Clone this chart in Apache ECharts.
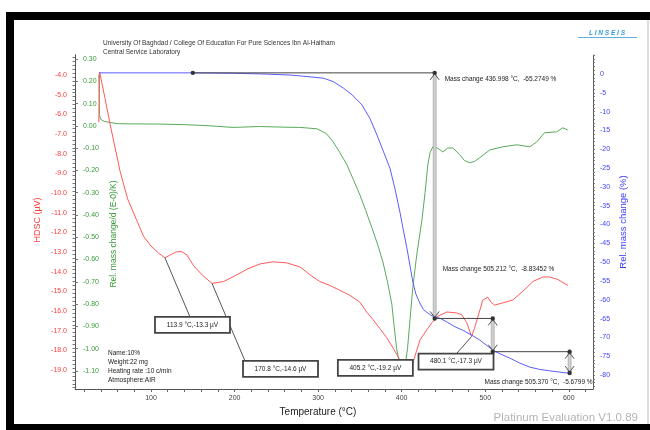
<!DOCTYPE html>
<html><head><meta charset="utf-8">
<script src="https://cdn.jsdelivr.net/npm/echarts@6/dist/echarts.min.js"></script>
<style>html,body{margin:0;padding:0;background:#fff}#c{width:650px;height:430px}</style>
</head><body><div id="c"></div>
<script>
// ---------- data ----------
const tempTicks = [100, 200, 300, 400, 500, 600];
const hdscTicks = [-4, -5, -6, -7, -8, -9, -10, -11, -12, -13, -14, -15, -16, -17, -18, -19];
const dtgTicks = [0.3, 0.2, 0.1, 0, -0.1, -0.2, -0.3, -0.4, -0.5, -0.6, -0.7, -0.8, -0.9, -1.0, -1.1];
const tgTicks = [0, -5, -10, -15, -20, -25, -30, -35, -40, -45, -50, -55, -60, -65, -70, -75, -80];

// HDSC (µV) vs temperature (°C)
const hdscData = [[37.5,-6.4],[38.5,-3.85],[45,-5.2],[51,-6.5],[57,-7.7],[63,-8.9],[72,-10.3],[84,-11.5],[91,-12.2],[100,-12.7],[109,-13.05],[116.7,-13.3],[123,-13.15],[130,-13.0],[136,-12.97],[143,-13.15],[151,-13.7],[162,-14.2],[173,-14.6],[187,-14.5],[201,-14.2],[216,-13.85],[231,-13.6],[246,-13.5],[262,-13.55],[278,-13.75],[290,-14.15],[302,-14.5],[314,-14.7],[326,-14.95],[338,-15.2],[350,-15.55],[358,-16.05],[366,-16.45],[374,-16.9],[382,-17.35],[390,-17.9],[398,-18.5],[403,-18.9],[408,-19.2],[411,-19.0],[413.5,-18.64],[418,-18.0],[422,-17.47],[430,-16.96],[436,-16.6],[442,-16.3],[454,-16.05],[466,-16.1],[472,-16.2],[478,-16.6],[483.6,-17.3],[487,-16.9],[490,-16.46],[494,-15.9],[497,-15.45],[503,-15.3],[507,-15.55],[511,-15.7],[520,-15.6],[533,-15.44],[545,-15.0],[557,-14.5],[569,-14.27],[577,-14.27],[587,-14.4],[599,-14.7]];

// Rel. mass change/d (DTG) vs temperature
const dtgData = [[37.5,0.23],[38.3,0.05],[39.5,0.03],[44,0.02],[51,0.015],[60,0.01],[71,0.009],[111,0.008],[143,0.005],[171,0.0],[198,-0.007],[230,-0.003],[260,-0.006],[278,-0.007],[298.5,-0.013],[310,-0.035],[318,-0.072],[326,-0.12],[334.5,-0.175],[342,-0.24],[350,-0.31],[357,-0.38],[364.3,-0.457],[371,-0.53],[377.5,-0.61],[383,-0.7],[388.2,-0.8],[391,-0.9],[394,-1.0],[398,-1.08],[401,-1.1],[404,-1.08],[407,-1.0],[410,-0.87],[413.3,-0.726],[418,-0.58],[424,-0.43],[428,-0.3],[431.3,-0.175],[434,-0.12],[437.3,-0.094],[443,-0.1],[449.3,-0.117],[455,-0.1],[461.2,-0.099],[469.6,-0.13],[475,-0.155],[481.5,-0.166],[487,-0.16],[493.5,-0.143],[505.5,-0.108],[521,-0.094],[537.8,-0.085],[553.3,-0.094],[561.7,-0.072],[571,-0.031],[585.5,-0.027],[592.7,-0.009],[598.8,-0.018]];

// Rel. mass change (%) vs temperature
const tgData = [[38,0.3],[100,0.3],[150,0.3],[198,0.2],[235,0.0],[266,-0.27],[278,-0.5],[306,-1.1],[318,-2.0],[330,-3.7],[341,-5.6],[352.4,-8.2],[362,-11.8],[370.4,-16.2],[378,-20.5],[385.9,-25],[392,-30.5],[397.9,-36.7],[402,-41.5],[406.2,-46.2],[410,-51],[413.4,-55.3],[417,-58.5],[421.8,-60.9],[426,-62.6],[430,-63.3],[435,-64.1],[439.7,-64.6],[445.7,-64.9],[455,-66.0],[463,-67.1],[473,-68.1],[483,-69.3],[493.5,-70.7],[501,-72.0],[509,-73.4],[519,-74.5],[529.4,-75.5],[541,-76.8],[553.3,-77.9],[565,-78.5],[577.3,-78.9],[588,-79.2],[598.8,-79.5]];

// peak annotations on HDSC
const peakLabels = ['113.9 °C,-13.3 µV', '170.8 °C,-14.6 µV', '405.2 °C,-19.2 µV', '480.1 °C,-17.3 µV'];
const peakTemps = [116.7, 173, 408, 483.6];
const peakValues = [-13.3, -14.6, -19.2, -17.3];

// mass change steps on TG
const stepTemps = [150, 439.5, 509, 601];
const stepLevels = [0.3, -64.97, -73.80, -79.48];
const massTexts = ['Mass change 436.998 °C,  -65.2749 %', 'Mass change 505.212 °C,  -8.83452 %', 'Mass change 505.370 °C,  -5.6799 %'];

const infoLines = ['Name:10%', 'Weight:22 mg', 'Heating rate :10 c/min', 'Atmosphere:AIR'];
const headerLines = ['University Of Baghdad / College Of Education For Pure Sciences Ibn Al-Haitham', 'Central Service Laboratory'];

// ---------- chart ----------
const FONT = '"Liberation Sans", Arial, sans-serif';
const RED = '#ff5a5a', GREEN = '#5aaa5a', BLUE = '#5c5cff';
const redTickVals = []; for (let i = -199; i <= -30; i += 2) redTickVals.push(i / 10);
const blueTickVals = []; for (let i = -83; i <= 5; i += 1) blueTickVals.push(i);
const xTickVals = []; for (let i = 20; i <= 620; i += 20) xTickVals.push(i);

const axisLineStyle = { color: '#555', width: 1 };
const option = {
  animation: false,
  backgroundColor: '#fff',
  grid: { left: 75, right: 57, top: 55, bottom: 41, containLabel: false, outerBoundsMode: 'none' },
  xAxis: {
    type: 'value', min: 9, max: 629,
    axisLine: { show: true, onZero: false, lineStyle: axisLineStyle },
    axisTick: { show: true, customValues: xTickVals, length: 3, lineStyle: { color: '#666' } },
    axisLabel: { customValues: tempTicks, color: '#444', fontSize: 7, fontFamily: FONT, margin: 6 },
    splitLine: { show: false }
  },
  yAxis: [
    {
      type: 'value', position: 'left', min: -19.966, max: -2.983,
      axisLine: { show: true, lineStyle: axisLineStyle },
      axisTick: { show: true, customValues: redTickVals, length: 2.5, lineStyle: { color: '#777' } },
      axisLabel: { customValues: hdscTicks, color: '#ff3b3b', fontSize: 7, fontFamily: FONT, margin: 8, formatter: v => v.toFixed(1) },
      splitLine: { show: false }
    },
    {
      type: 'value', position: 'left', offset: 0, min: -1.181, max: 0.318,
      axisLine: { show: true, lineStyle: axisLineStyle },
      axisTick: { show: true, inside: true, customValues: dtgTicks, length: 3, lineStyle: { color: '#777' } },
      axisLabel: { inside: true, customValues: dtgTicks, color: '#3a9a3a', fontSize: 7, fontFamily: FONT, margin: 8, formatter: v => v.toFixed(2) },
      splitLine: { show: false }
    },
    {
      type: 'value', position: 'right', min: -83.72, max: 5.05,
      axisLine: { show: true, lineStyle: axisLineStyle },
      axisTick: { show: true, customValues: blueTickVals, length: 2, lineStyle: { color: '#777' } },
      axisLabel: { customValues: tgTicks, color: '#4040ff', fontSize: 7, fontFamily: FONT, margin: 7, formatter: v => String(v) },
      splitLine: { show: false }
    }
  ],
  series: [
    { name: 'HDSC', type: 'line', yAxisIndex: 0, data: hdscData, showSymbol: false, lineStyle: { color: RED, width: 1 }, z: 3 },
    { name: 'DTG', type: 'line', yAxisIndex: 1, data: dtgData, showSymbol: false, lineStyle: { color: GREEN, width: 1 }, z: 2 },
    { name: 'TG', type: 'line', yAxisIndex: 2, data: tgData, showSymbol: false, lineStyle: { color: BLUE, width: 1 }, z: 4 }
  ]
};

const chart = echarts.init(document.getElementById('c'), null, { renderer: 'canvas' });
chart.setOption(option);

function px(seriesIndex, t, v) { return chart.convertToPixel({ seriesIndex: seriesIndex }, [t, v]); }

function txt(x, y, text, opt) {
  opt = opt || {};
  return {
    type: 'text', x: x, y: y, rotation: opt.rotation || 0, z: 120,
    style: {
      text: text, fill: opt.fill || '#333',
      font: (opt.weight || 'normal') + ' ' + (opt.size || 7) + 'px ' + FONT,
      align: opt.align || 'left', textAlign: opt.align || 'left',
      verticalAlign: 'middle', textVerticalAlign: 'middle'
    }
  };
}

const g = [];
// frame
g.push({ type: 'rect', shape: { x: 6, y: 12, width: 644, height: 8 }, style: { fill: '#000' }, z: 200 });
g.push({ type: 'rect', shape: { x: 6, y: 12, width: 8, height: 418 }, style: { fill: '#000' }, z: 200 });
g.push({ type: 'rect', shape: { x: 6, y: 424, width: 644, height: 6 }, style: { fill: '#000' }, z: 200 });
g.push({ type: 'line', shape: { x1: 648, y1: 20, x2: 648, y2: 424 }, style: { stroke: '#bbb', lineWidth: 1 }, z: 200 });

// header
g.push(txt(103, 43, headerLines[0], { size: 6.5 }));
g.push(txt(103, 52, headerLines[1], { size: 6.5 }));
// logo
g.push(txt(607, 33, 'L I N S E I S', { size: 6.5, align: 'center', fill: '#3a9ad9', weight: 'italic bold' }));
g.push({ type: 'line', shape: { x1: 578, y1: 37.5, x2: 637, y2: 37.5 }, style: { stroke: '#3a9ad9', lineWidth: 0.8 }, z: 120 });

// axis names
g.push(txt(38, 220, 'HDSC (µV)', { size: 9, align: 'center', fill: '#ff3b3b', rotation: Math.PI / 2 }));
g.push(txt(114, 234, 'Rel. mass change/d (E-0)/K)', { size: 8.5, align: 'center', fill: '#3a9a3a', rotation: Math.PI / 2 }));
g.push(txt(623, 222, 'Rel. mass change (%)', { size: 9.5, align: 'center', fill: '#4040ff', rotation: Math.PI / 2 }));
g.push(txt(318, 412, 'Temperature (°C)', { size: 10, align: 'center', fill: '#222' }));
g.push(txt(638, 418, 'Platinum Evaluation V1.0.89', { size: 11.5, align: 'right', fill: '#b4b4b4' }));

// info
infoLines.forEach((s, i) => g.push(txt(108, 353 + i * 9, s, { size: 6.5, fill: '#222' })));

// mass change steps
function chevron(x, y, dir) {
  return { type: 'polyline', z: 130, shape: { points: [[x - 4.5, y + dir * 7], [x, y + dir * 1], [x + 4.5, y + dir * 7]] }, style: { stroke: '#555', lineWidth: 1, fill: null } };
}
function marker(p) {
  return { type: 'circle', z: 140, shape: { cx: p[0], cy: p[1], r: 2.2 }, style: { fill: '#333' } };
}
for (let i = 0; i < 3; i++) {
  const a = px(2, stepTemps[i], stepLevels[i]);
  const b = px(2, stepTemps[i + 1], stepLevels[i]);
  const c = px(2, stepTemps[i + 1], stepLevels[i + 1]);
  g.push({ type: 'line', z: 125, shape: { x1: a[0], y1: a[1], x2: b[0], y2: b[1] }, style: { stroke: '#444', lineWidth: 1 } });
  g.push({ type: 'rect', z: 126, shape: { x: b[0] - 1.5, y: b[1], width: 3, height: c[1] - b[1] }, style: { fill: '#d0d0d0', stroke: '#999', lineWidth: 0.6 } });
  g.push(chevron(b[0], b[1], 1));
  g.push(chevron(c[0], c[1], -1));
  if (i === 0) g.push(marker(a));
  g.push(marker(b));
  g.push(marker(c));
}
{
  const t0 = px(2, stepTemps[1], stepLevels[0]);
  g.push(txt(t0[0] + 10, t0[1] + 6, massTexts[0], { size: 6.5, fill: '#222' }));
  const t1 = px(2, stepTemps[1], stepLevels[1]);
  g.push(txt(t1[0] + 8, t1[1] - 49, massTexts[1], { size: 6.5, fill: '#222' }));
  const t2 = px(2, stepTemps[3], stepLevels[3]);
  g.push(txt(t2[0] + 23, t2[1] + 9, massTexts[2], { size: 6.5, fill: '#222', align: 'right' }));
}

// peak label boxes (layout offsets relative to the peak point)
const boxOffsets = [[-10, 59], [31, 77.5], [-70.5, -14], [-53, 17]];
const leaderAt = [35, 2, null, 38];
for (let i = 0; i < peakLabels.length; i++) {
  const p = px(0, peakTemps[i], peakValues[i]);
  const bx = p[0] + boxOffsets[i][0], by = p[1] + boxOffsets[i][1];
  if (leaderAt[i] !== null) {
    g.push({ type: 'line', z: 110, shape: { x1: p[0], y1: p[1], x2: bx + leaderAt[i], y2: by }, style: { stroke: '#555', lineWidth: 1 } });
  }
  g.push({ type: 'rect', z: 115, shape: { x: bx, y: by, width: 75, height: 16 }, style: { fill: '#fff', stroke: '#444', lineWidth: 1.8 } });
  g.push(txt(bx + 37.5, by + 8, peakLabels[i], { size: 6.5, align: 'center', fill: '#222' }));
}

chart.setOption({ graphic: { elements: g } });
</script>
</body></html>
